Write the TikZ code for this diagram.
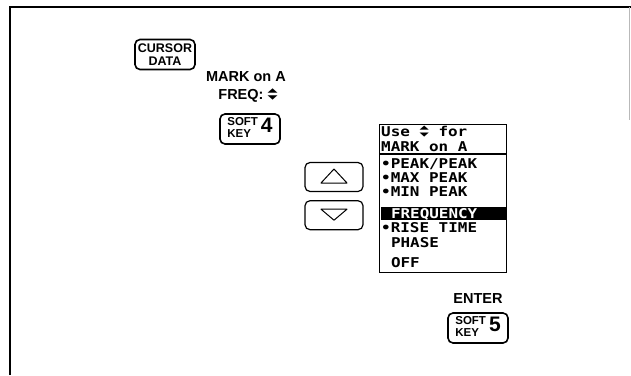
\documentclass[tikz,border=0pt]{standalone}
\usepackage{fontspec}
\setmainfont{Liberation Sans}
\newfontfamily\lcdfont[FakeStretch=1.18]{DejaVu Sans Mono}
\newfontfamily\symbfont{DejaVu Sans}
\usetikzlibrary{positioning,calc}

% up/down selector glyph
\newcommand\updn{{\symbfont\makebox[0pt][l]{\raisebox{0.46em}{\scalebox{0.9}[0.4]{▲}}}\scalebox{0.9}[0.4]{▼}}}

\begin{document}
\begin{tikzpicture}[
  x=1pt, y=-1pt,
  font=\fontsize{14.5}{16}\selectfont\bfseries,
  key/.style={
    draw, rounded corners=5pt,
    minimum width=60pt, minimum height=30pt,
    line width=1.6pt, inner sep=2pt,
    align=center, font=\fontsize{12.5}{13}\selectfont\bfseries
  },
  arrowkey/.style={
    draw, rounded corners=5pt,
    minimum width=58pt, minimum height=29pt,
    line width=1.2pt
  },
  tri/.style={line width=1pt, line join=round},
  hint/.style={inner sep=1pt},
  menubox/.style={
    draw, line width=1.4pt, inner sep=0pt,
    minimum width=127pt, minimum height=148pt
  },
  lcd/.style={font=\lcdfont\bfseries\fontsize{13.5}{14}\selectfont, inner sep=0pt, anchor=base west},
  frame/.style={line width=1.6pt},
]
\useasboundingbox (0,0) rectangle (631,375);

% Outer frame of the page.
\draw[frame] (10,375) -- (10,7) -- (631,7);
\draw[gray!55, line width=0.8pt] (629,7) -- (629,120);

% Left column: cursor key, mark label, soft key 4.
\node[key] (cursorkey) at (165,54.5) {CURSOR\\DATA};
\node[hint] (marklbl) at (246,77) {MARK on A};
\node[hint, anchor=north] (freqlbl) at (248,88) {FREQ: \updn};
\node[key] (softfour) at (250,129)
  {\begin{tabular}{@{}l@{}}\fontsize{11.5}{11.5}\selectfont SOFT\\[-1pt]\fontsize{11.5}{11.5}\selectfont KEY\end{tabular}\hspace{3pt}\fontsize{21}{21}\selectfont 4};

% Step keys.
\node[arrowkey] (upkey) at (334,177) {};
\node[arrowkey, below=8pt of upkey] (downkey) {};
\draw[tri] ($(upkey.center)+(0,-8)$) -- ($(upkey.center)+(13,6)$)
  -- ($(upkey.center)+(-13,6)$) -- cycle;
\draw[tri] ($(downkey.center)+(-13,-6)$) -- ($(downkey.center)+(13,-6)$)
  -- ($(downkey.center)+(0,5)$) -- cycle;

% Menu on the screen.
\node[menubox, anchor=north west] (menu) at (379,124) {};
\draw[line width=2pt] ($(menu.north west)+(0,30)$) -- ($(menu.north east)+(0,30)$);
\fill ($(menu.north west)+(2,83)$) rectangle ($(menu.north east)+(-1,96)$);

\node[lcd] (usetxt) at ($(menu.north west)+(2,12)$) {Use~\updn~for};
\node[lcd] (marktxt) at ($(menu.north west)+(2,27)$) {MARK on A};
\node[lcd] (pkpk) at ($(menu.north west)+(2,44)$) {•PEAK/PEAK};
\node[lcd] (maxpk) at ($(menu.north west)+(2,58)$) {•MAX PEAK};
\node[lcd] (minpk) at ($(menu.north west)+(2,72)$) {•MIN PEAK};
\node[lcd, text=white] (freq) at ($(menu.north west)+(11.8,94)$) {FREQUENCY};
\node[lcd] (rise) at ($(menu.north west)+(2,108)$) {•RISE TIME};
\node[lcd] (phase) at ($(menu.north west)+(11.8,123)$) {PHASE};
\node[lcd] (off) at ($(menu.north west)+(11.8,143)$) {OFF};

% Enter soft key.
\node[key] (softfive) at (478,328)
  {\begin{tabular}{@{}l@{}}\fontsize{11.5}{11.5}\selectfont SOFT\\[-1pt]\fontsize{11.5}{11.5}\selectfont KEY\end{tabular}\hspace{3pt}\fontsize{21}{21}\selectfont 5};
\node[hint, above=8pt of softfive] (enter) {ENTER};

\end{tikzpicture}
\end{document}
